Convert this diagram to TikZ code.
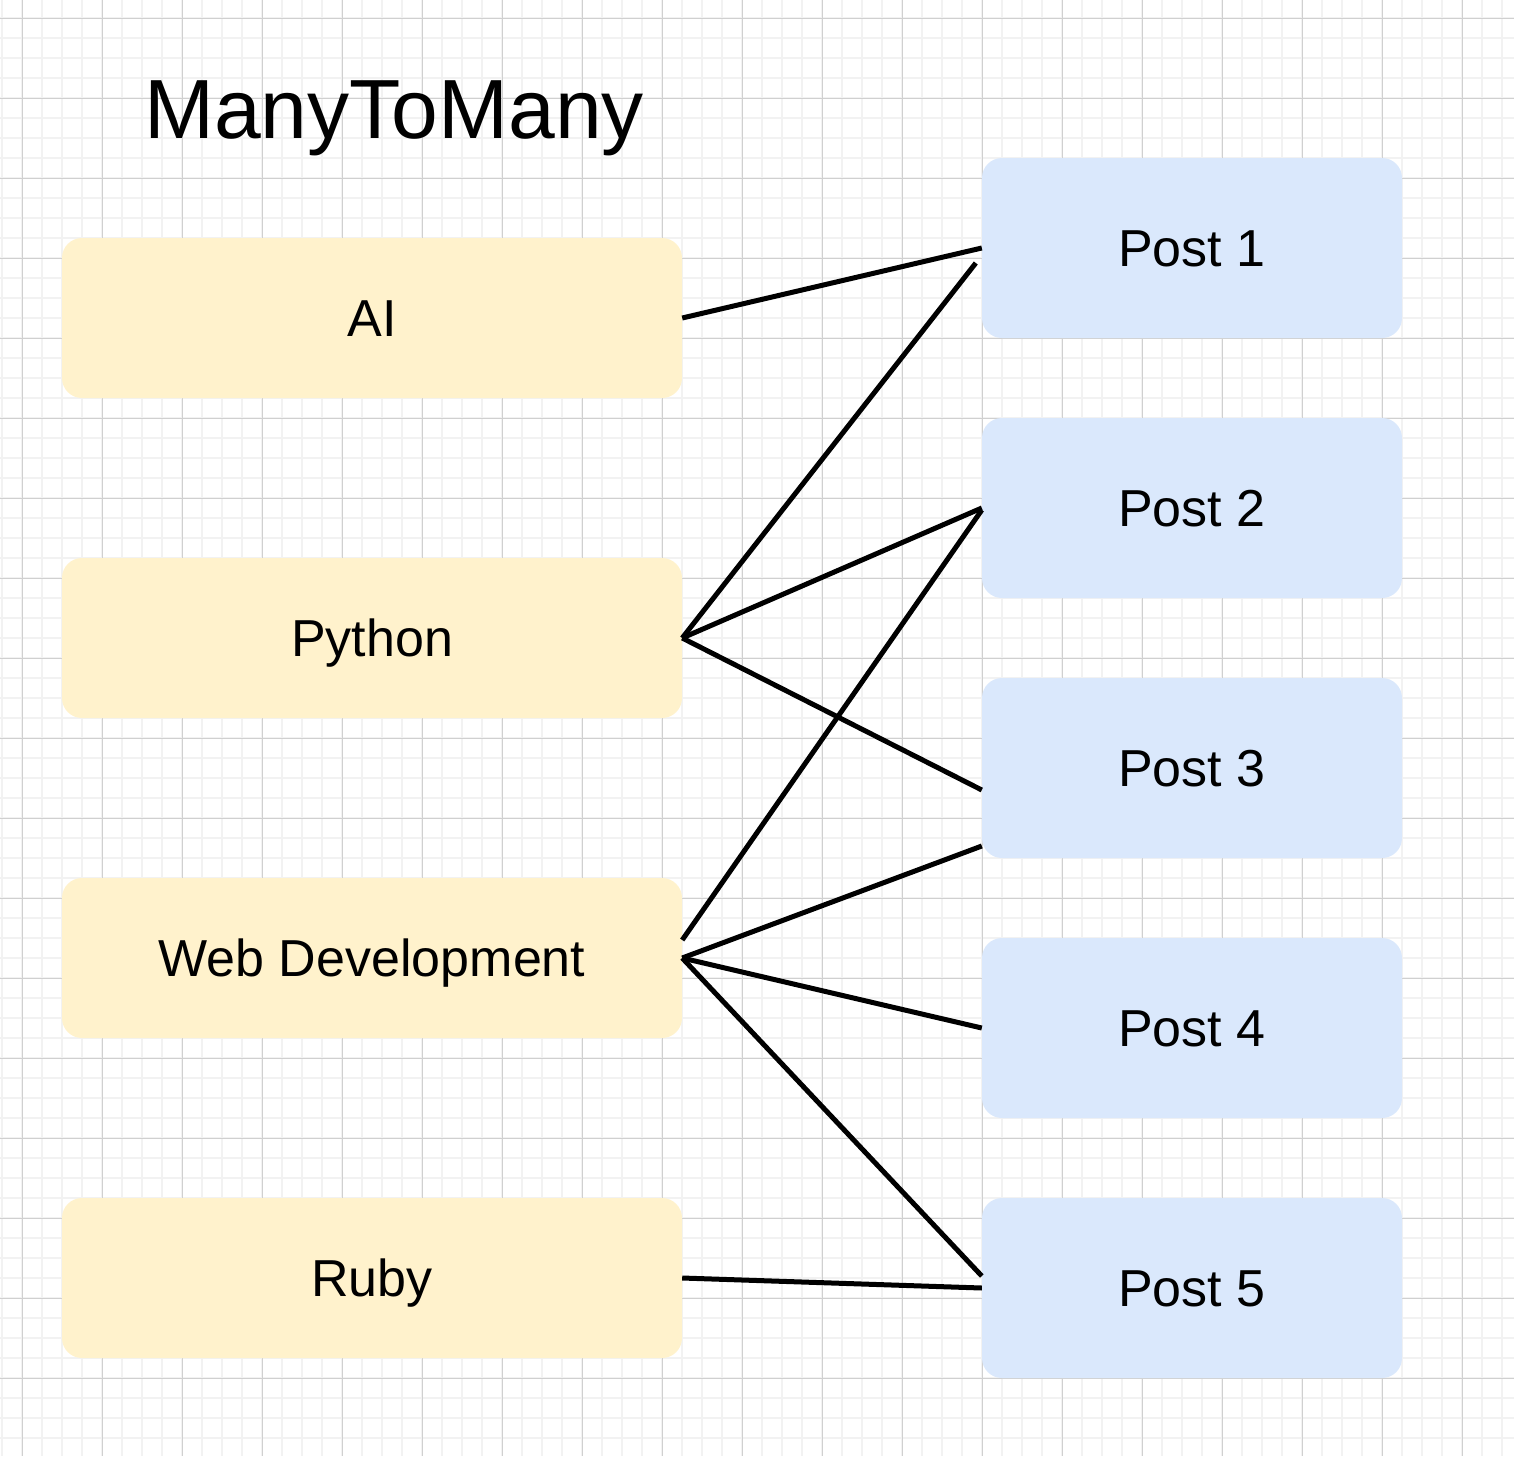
\documentclass[tikz,border=0pt]{standalone}
\usepackage{fontspec}
\setmainfont{Liberation Sans}
\usetikzlibrary{calc}
\definecolor{minorgrid}{HTML}{F2F2F2}
\definecolor{majorgrid}{HTML}{D0D0D0}
\definecolor{tagfill}{HTML}{FFF2CC}
\definecolor{postfill}{HTML}{DAE8FC}
\tikzset{
  tagbox/.style={fill=tagfill, rounded corners=20pt, minimum width=620pt, minimum height=160pt,
    inner sep=0pt, text height=37pt, text depth=0pt, font=\fontsize{52}{62}\selectfont},
  postbox/.style={fill=postfill, rounded corners=20pt, minimum width=420pt, minimum height=180pt,
    inner sep=0pt, text height=37pt, text depth=0pt, font=\fontsize{52}{62}\selectfont},
  link/.style={line width=5pt, black},
}
\begin{document}
\begin{tikzpicture}[x=1pt,y=-1pt]
\useasboundingbox (0,0) rectangle (1514,1456);
\fill[white] (0,0) rectangle (1514,1456);
% grid
\begin{scope}
\clip (0,0) rectangle (1514,1456);
\foreach \x in {2,22,...,1514} \draw[minorgrid, line width=1.5pt] (\x,0) -- (\x,1456);
\foreach \y in {18,38,...,1456} \draw[minorgrid, line width=1.5pt] (0,\y) -- (1514,\y);
\foreach \x in {22,102,...,1514} \draw[majorgrid, line width=1pt] (\x,0) -- (\x,1456);
\foreach \y in {18,98,...,1456} \draw[majorgrid, line width=1pt] (0,\y) -- (1514,\y);
\end{scope}
% title
\node[anchor=base, inner sep=0pt, font=\fontsize{84}{98}\selectfont] (title) at (394,138) {ManyToMany};
% tag boxes
\node[tagbox] (ai) at (372,318) {AI};
\node[tagbox] (python) at (372,638) {Python};
\node[tagbox] (web) at (372,958) {Web Development};
\node[tagbox] (ruby) at (372,1278) {Ruby};
% post boxes
\node[postbox] (p1) at (1192,248) {Post 1};
\node[postbox] (p2) at (1192,508) {Post 2};
\node[postbox] (p3) at (1192,768) {Post 3};
\node[postbox] (p4) at (1192,1028) {Post 4};
\node[postbox] (p5) at (1192,1288) {Post 5};
% links
\draw[link] (ai.east) -- (p1.west);
\draw[link] (python.east) -- ($(p1.west)+(-6,15)$);
\draw[link] (python.east) -- (p2.west);
\draw[link] (python.east) -- ($(p3.west)+(0,22)$);
\draw[link] ($(web.east)+(0,-18)$) -- ($(p2.west)+(0,2)$);
\draw[link] (web.east) -- ($(p3.west)+(0,78)$);
\draw[link] (web.east) -- (p4.west);
\draw[link] (web.east) -- ($(p5.west)+(0,-12)$);
\draw[link] (ruby.east) -- (p5.west);
\end{tikzpicture}
\end{document}
